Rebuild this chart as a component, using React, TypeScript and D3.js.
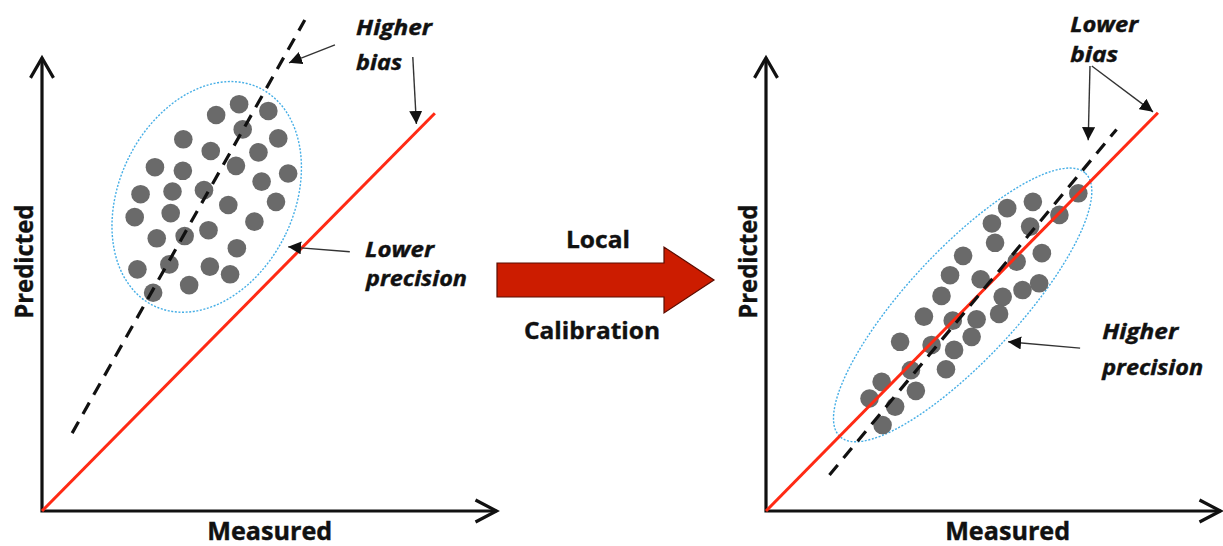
import React from "react";
import * as d3 from "d3";

// ---- data (panel units: 0..100 on both axes, 1 unit = same size in x and y) ----
const leftDots: [number, number][] = [
  [43.8, 90.4], [50.3, 88.9], [38.7, 88.0], [44.6, 84.8], [31.4, 82.6], [52.5, 82.8],
  [37.5, 80.0], [48.1, 79.7], [25.1, 76.4], [31.3, 75.6], [43.1, 76.7], [54.7, 75.0],
  [48.8, 73.2], [21.9, 70.4], [29.0, 71.0], [36.0, 71.3], [52.0, 68.7], [41.4, 68.0],
  [20.6, 65.3], [28.6, 66.2], [47.2, 64.3], [25.5, 60.6], [31.7, 61.1], [37.0, 62.4],
  [43.3, 58.4], [21.2, 53.7], [28.3, 54.8], [37.3, 54.3], [41.8, 52.6], [32.7, 50.2],
  [24.7, 48.5],
];
const rightDots: [number, number][] = [
  [69.4, 70.6], [59.3, 68.7], [53.6, 67.3], [65.2, 65.8], [50.2, 63.9], [58.7, 63.2],
  [50.9, 59.6], [61.3, 57.3], [43.8, 56.7], [55.7, 55.4], [40.9, 52.4], [47.7, 51.5],
  [60.7, 50.6], [57.0, 49.1], [39.0, 47.8], [52.6, 47.6], [35.1, 43.2], [41.5, 42.3],
  [46.8, 42.6], [51.8, 43.8], [29.8, 37.6], [36.8, 36.9], [45.7, 38.7], [41.8, 35.8],
  [32.2, 31.3], [40.0, 31.5], [25.7, 28.7], [33.3, 26.7], [23.0, 25.0], [28.7, 23.2],
  [25.9, 19.1],
];
// reference 1:1 line and fitted (dashed) line endpoints
const leftIdeal: [number, number][] = [[0, 0], [87.3, 88.4]];
const leftFit: [number, number][] = [[6.7, 17.3], [58.4, 109.1]];
const rightIdeal: [number, number][] = [[0, 0], [87.1, 88.5]];
const rightFit: [number, number][] = [[14.1, 8.0], [77.9, 84.8]];
// ellipses: cx, cy, rx, ry (panel units), rotation deg
const leftEllipse = [36.6, 69.8, 19.4, 26.9, 26];
const rightEllipse = [43.7, 45.8, 40, 12.2, -47];
// annotation arrows [x1,y1,x2,y2]
const leftArrows: number[][] = [
  [65.1, 103.6, 54.9, 99.6],
  [82.4, 100.9, 83.2, 86.0],
  [68.4, 57.6, 54.7, 58.7],
];
const rightArrows: number[][] = [
  [72.0, 98.9, 71.6, 82.4],
  [72.4, 98.9, 86.0, 88.7],
  [69.8, 36.2, 53.8, 37.6],
];
// annotation labels [text, x, y(baseline), width]
const leftLabels: [string, number, number, number][] = [
  ["Higher", 69.8, 105.8, 76],
  ["bias", 69.8, 98.0, 46],
  ["Lower", 71.8, 56.4, 69],
  ["precision", 72.0, 50.0, 101],
];
const rightLabels: [string, number, number, number][] = [
  ["Lower", 67.6, 106.4, 68],
  ["bias", 67.6, 99.8, 48],
  ["Higher", 74.7, 38.2, 76],
  ["precision", 74.7, 30.2, 101],
];
const axisTitles = { x: "Measured", y: "Predicted" };
const arrowLabels = ["Local", "Calibration"];

const W = 1223;
const H = 546;
const yScale = d3.scaleLinear().domain([0, 100]).range([511, 61]);
const leftX = d3.scaleLinear().domain([0, 100]).range([42, 492]);
const rightX = d3.scaleLinear().domain([0, 100]).range([766, 1216]);

const FONT = "'Open Sans', 'DejaVu Sans', sans-serif";

function Panel({
  xs, dots, ideal, fit, ellipse, arrows, labels, measuredX, id,
}: {
  xs: d3.ScaleLinear<number, number>;
  dots: [number, number][];
  ideal: [number, number][];
  fit: [number, number][];
  ellipse: number[];
  arrows: number[][];
  labels: [string, number, number, number][];
  measuredX: number;
  id: string;
}) {
  const line = d3.line<[number, number]>().x((d) => xs(d[0])).y((d) => yScale(d[1]));
  const x0 = xs(0);
  const y0 = yScale(0);
  const xEnd = xs(101);
  const yTop = yScale(100.7);
  const [ecx, ecy, erx, ery, erot] = ellipse;
  const cx = xs(ecx);
  const cy = yScale(ecy);
  const rx = xs(ecx + erx) - xs(ecx);
  const ry = yScale(ecy) - yScale(ecy + ery);
  return (
    <g>
      <defs>
        <marker id={`ah-${id}`} markerUnits="userSpaceOnUse" markerWidth={14} markerHeight={13}
          refX={13} refY={6.5} orient="auto" viewBox="0 0 14 13">
          <path d="M0,0 L13,6.5 L0,13 z" fill="#111" />
        </marker>
      </defs>
      {/* axes */}
      <path d={`M${x0},${yTop} L${x0},${y0} L${xEnd},${y0}`} fill="none" stroke="#111" strokeWidth={3.2} />
      <path d={`M${x0 - 11.5},${yTop + 20} L${x0},${yTop} L${x0 + 11.5},${yTop + 20}`} fill="none" stroke="#111" strokeWidth={3.2} strokeLinejoin="miter" />
      <path d={`M${xEnd - 21},${y0 - 11} L${xEnd},${y0} L${xEnd - 21},${y0 + 11}`} fill="none" stroke="#111" strokeWidth={3.2} strokeLinejoin="miter" />
      {/* ellipse */}
      <ellipse cx={cx} cy={cy} rx={rx} ry={ry} transform={`rotate(${erot},${cx},${cy})`}
        fill="none" stroke="#45aee6" strokeWidth={1.4} strokeDasharray="2,1.6" />
      {/* dots */}
      {dots.map((d, i) => (
        <circle key={i} cx={xs(d[0])} cy={yScale(d[1])} r={9.3} fill="#6a6a6a" />
      ))}
      {/* lines */}
      <path d={line(ideal) || ""} stroke="#ff2a14" strokeWidth={3} fill="none" />
      <path d={line(fit) || ""} stroke="#111" strokeWidth={3.2} strokeDasharray="13,9" fill="none" />
      {/* annotations */}
      {arrows.map((a, i) => (
        <line key={i} x1={xs(a[0])} y1={yScale(a[1])} x2={xs(a[2])} y2={yScale(a[3])}
          stroke="#333" strokeWidth={1.4} markerEnd={`url(#ah-${id})`} />
      ))}
      {labels.map((l, i) => (
        <text key={i} x={xs(l[1])} y={yScale(l[2])} fontFamily={FONT} fontWeight="bold"
          fontStyle="italic" fontSize={21} fill="#111" stroke="#111" strokeWidth={0.4}
          textLength={l[3]} lengthAdjust="spacingAndGlyphs">
          {l[0]}
        </text>
      ))}
      {/* axis titles */}
      <text x={xs(measuredX)} y={yScale(-6.4)} textAnchor="middle" fontFamily={FONT} fontWeight="bold"
        fontSize={25} fill="#111" stroke="#111" strokeWidth={0.4} textLength={125} lengthAdjust="spacingAndGlyphs">
        {axisTitles.x}
      </text>
      <text transform={`translate(${xs(-2.1)},${yScale(55.4)}) rotate(-90)`} textAnchor="middle"
        fontFamily={FONT} fontWeight="bold" fontSize={25} fill="#111" stroke="#111" strokeWidth={0.4}
        textLength={114} lengthAdjust="spacingAndGlyphs">
        {axisTitles.y}
      </text>
    </g>
  );
}

export default function App() {
  // central block arrow
  const bx0 = 497, bx1 = 664, tip = 714, byTop = 263, byBot = 297, hTop = 247, hBot = 313;
  const cyA = (byTop + byBot) / 2;
  const arrowPath = `M${bx0},${byTop} L${bx1},${byTop} L${bx1},${hTop} L${tip},${cyA} L${bx1},${hBot} L${bx1},${byBot} L${bx0},${byBot} Z`;
  return (
    <svg width={W} height={H} style={{ position: "absolute", left: 0, top: 0, background: "#fff" }}>
      <rect width={W} height={H} fill="#fff" />
      <Panel id="l" xs={leftX} dots={leftDots} ideal={leftIdeal} fit={leftFit} ellipse={leftEllipse}
        arrows={leftArrows} labels={leftLabels} measuredX={50.6} />
      <Panel id="r" xs={rightX} dots={rightDots} ideal={rightIdeal} fit={rightFit} ellipse={rightEllipse}
        arrows={rightArrows} labels={rightLabels} measuredX={53.7} />
      <path d={arrowPath} fill="#cc1c00" stroke="#5a0c00" strokeWidth={1.2} />
      <text x={598} y={248} textAnchor="middle" fontFamily={FONT} fontWeight="bold" fontSize={24}
        fill="#111" stroke="#111" strokeWidth={0.4} textLength={64} lengthAdjust="spacingAndGlyphs">{arrowLabels[0]}</text>
      <text x={592} y={339} textAnchor="middle" fontFamily={FONT} fontWeight="bold" fontSize={24}
        fill="#111" stroke="#111" strokeWidth={0.4} textLength={136} lengthAdjust="spacingAndGlyphs">{arrowLabels[1]}</text>
    </svg>
  );
}
